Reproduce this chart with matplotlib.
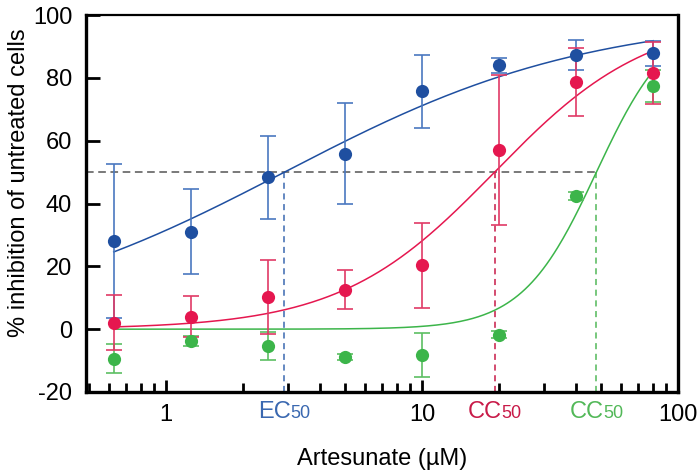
import numpy as np
import matplotlib
matplotlib.use("Agg")
import matplotlib.pyplot as plt
from matplotlib.offsetbox import TextArea, HPacker, AnnotationBbox

plt.rcParams["font.family"] = ["Liberation Sans", "DejaVu Sans"]
plt.rcParams["axes.unicode_minus"] = False

# artesunate concentrations (uM), two-fold dilutions
conc = [0.625, 1.25, 2.5, 5, 10, 20, 40, 80]

# antiviral effect (blue), % inhibition
ec_mean = [28.1, 31.0, 48.3, 55.9, 75.7, 84.0, 87.3, 87.8]
ec_err = [24.6, 13.5, 13.3, 16.2, 11.7, 2.4, 4.9, 4.0]

# cytotoxicity, first assay (red)
cc1_mean = [2.1, 4.0, 10.3, 12.5, 20.3, 57.0, 78.6, 81.6]
cc1_err = [8.7, 6.6, 11.7, 6.2, 13.5, 23.9, 10.8, 9.9]

# cytotoxicity, second assay (green)
cc2_mean = [-9.4, -3.9, -5.3, -8.9, -8.1, -1.7, 42.4, 77.4]
cc2_err = [4.7, 1.6, 4.4, 1.0, 7.0, 1.2, 1.3, 5.0]

# fitted dose-response curves: (bottom, top, 50% point, hill slope)
ec_fit = (0, 100, 2.9, 0.73)
cc1_fit = (0, 100, 19.2, 1.44)
cc2_fit = (0, 100, 48.0, 3.0)

blue = "#1f4fa0"
blue_bar = "#4a78c0"
red = "#e5174f"
red_bar = "#e03a66"
green = "#3cb54a"
green_bar = "#5cbf62"


def hill(x, fit):
    bottom, top, half, slope = fit
    return bottom + (top - bottom) / (1 + (half / x) ** slope)


fig = plt.figure(figsize=(7, 4.72), dpi=100)
ax = fig.add_axes([0.1229, 0.1695, 0.8457, 0.7985])

xs = np.logspace(np.log10(conc[0]), np.log10(conc[-1]), 300)

series = [
    (cc2_mean, cc2_err, cc2_fit, green, green_bar),
    (ec_mean, ec_err, ec_fit, blue, blue_bar),
    (cc1_mean, cc1_err, cc1_fit, red, red_bar),
]
for mean, err, fit, col, bar_col in series:
    ax.plot(xs, hill(xs, fit), color=col, lw=1.1, zorder=2)
    ax.errorbar(conc, mean, yerr=err, fmt="none", ecolor=bar_col,
                elinewidth=1.2, capsize=5.5, capthick=1.2, zorder=3)
    ax.plot(conc, mean, "o", color=col, ms=9.5, mec="none", zorder=4)

# 50 % reference line and the read-off points
x_left = 0.487
ax.plot([x_left, cc2_fit[2]], [50, 50], color="#555555", lw=1.1,
        dashes=(5, 3), zorder=1)
marks = [(ec_fit[2], "#3a68b0", "EC"), (cc1_fit[2], "#c81a48", "CC"),
         (cc2_fit[2], "#52b858", "CC")]
for xv, col, word in marks:
    ax.plot([xv, xv], [-20, 50], color=col, lw=1.1, dashes=(4, 3), zorder=1)
    box = HPacker(children=[
        TextArea(word, textprops=dict(color=col, size=17)),
        TextArea("50", textprops=dict(color=col, size=13)),
    ], align="baseline", pad=0, sep=0)
    ab = AnnotationBbox(box, (xv, 0), xycoords=("data", "axes fraction"),
                        xybox=(0, -6.5), boxcoords="offset points",
                        frameon=False, box_alignment=(0.5, 1))
    ax.add_artist(ab)

ax.set_xscale("log")
ax.set_xlim(x_left, 100)
ax.set_ylim(-20, 100)
ax.set_xticks([1, 10, 100])
ax.set_xticklabels(["1", "10", "100"])
ax.set_yticks([-20, 0, 20, 40, 60, 80, 100])

ax.tick_params(axis="both", which="major", direction="in", width=2,
               labelsize=17, colors="black")
ax.tick_params(axis="x", which="major", length=9, pad=8.5)
ax.tick_params(axis="x", which="minor", direction="in", length=6.5, width=2)
ax.tick_params(axis="y", which="major", length=10, pad=10)

for side in ["left", "bottom", "right"]:
    ax.spines[side].set_linewidth(2.4)
ax.spines["top"].set_linewidth(1.6)

ax.set_xlabel("Artesunate (µM)", fontsize=17, labelpad=16)
ax.set_ylabel("% inhibition of untreated cells", fontsize=17)
ax.yaxis.set_label_coords(-0.095, 0.555)

fig.savefig("out.png", dpi=100)
